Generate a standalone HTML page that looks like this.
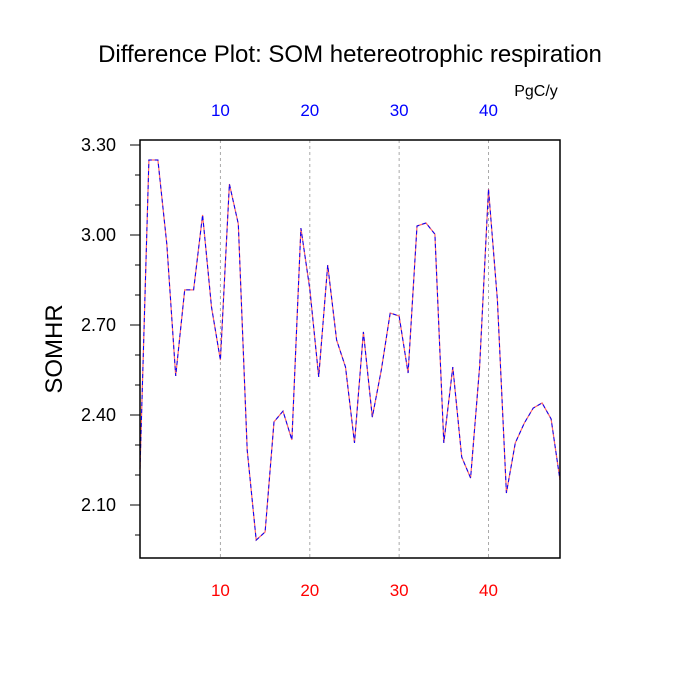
<!DOCTYPE html>
<html><head><meta charset="utf-8"><style>body{margin:0;background:#fff}svg{display:block}</style></head>
<body>
<svg id="chart" width="700" height="700" xmlns="http://www.w3.org/2000/svg" font-family="Liberation Sans, sans-serif">
<text x="350" y="62" text-anchor="middle" font-size="24">Difference Plot: SOM hetereotrophic respiration</text>
<text x="536" y="96" text-anchor="middle" font-size="16">PgC/y</text>
<text transform="translate(62,349) rotate(-90)" text-anchor="middle" font-size="24">SOMHR</text>
<g id="grid"></g><g id="axes"></g><g id="series"></g>
<rect x="140" y="140" width="420" height="418" fill="none" stroke="#000" stroke-width="1.5"/>
</svg>
<script>
const xValues = [1,2,3,4,5,6,7,8,9,10,11,12,13,14,15,16,17,18,19,20,21,22,23,24,25,26,27,28,29,30,31,32,33,34,35,36,37,38,39,40,41,42,43,44,45,46,47,48];
const somhr = [2.22,3.25,3.25,2.97,2.53,2.817,2.817,3.067,2.76,2.583,3.17,3.037,2.283,1.983,2.01,2.377,2.413,2.317,3.023,2.82,2.527,2.9,2.65,2.56,2.307,2.677,2.393,2.55,2.74,2.73,2.54,3.03,3.04,3.003,2.307,2.56,2.26,2.19,2.56,3.153,2.783,2.14,2.307,2.373,2.423,2.44,2.387,2.183];
const xTicks = [10,20,30,40];
const yTicks = [2.10,2.40,2.70,3.00,3.30];
const yMinorTicks = [2.0,2.2,2.3,2.5,2.6,2.8,2.9,3.1,3.2];
const NS='http://www.w3.org/2000/svg';
const X0=140,X1=560,Y0=558,Y1=140,xmin=1,xmax=48,ymin=1.9233,ymax=3.3167;
function sx(v){return X0+(v-xmin)/(xmax-xmin)*(X1-X0);}
function sy(v){return Y0-(v-ymin)/(ymax-ymin)*(Y0-Y1);}
function mk(tag,attrs,parent){const e=document.createElementNS(NS,tag);for(const k in attrs)e.setAttribute(k,attrs[k]);document.getElementById(parent).appendChild(e);return e;}
xTicks.forEach(t=>{
  const g=mk('line',{x1:sx(t),x2:sx(t),y1:Y1,y2:Y0,stroke:'#aaa','stroke-width':1,'stroke-dasharray':'3,3'},'grid');
  
  
  const b=mk('text',{x:sx(t),y:Y0+38,'text-anchor':'middle','font-size':17,fill:'#f00'},'axes');b.textContent=t;
  
  
  const tp=mk('text',{x:sx(t),y:Y1-24,'text-anchor':'middle','font-size':17,fill:'#00f'},'axes');tp.textContent=t;
  
  
});
yTicks.forEach(t=>{
  const l=mk('line',{x1:X0-10,x2:X0,y1:sy(t),y2:sy(t),stroke:'#000','stroke-width':1},'axes');
  
  
  const tx=mk('text',{x:X0-24,y:sy(t)+6,'text-anchor':'end','font-size':18},'axes');tx.textContent=t.toFixed(2);
  
  
});
yMinorTicks.forEach(t=>{
  const l=mk('line',{x1:X0-5,x2:X0,y1:sy(t),y2:sy(t),stroke:'#000','stroke-width':1},'axes');
  
  
});
const pts=xValues.map((x,i)=>sx(x).toFixed(1)+','+sy(somhr[i]).toFixed(1)).join(' ');
const r=mk('polyline',{points:pts,fill:'none',stroke:'#f66','stroke-width':1.2},'series');


const b=mk('polyline',{points:pts,fill:'none',stroke:'#00f','stroke-width':1,'stroke-dasharray':'4,3'},'series');


</script>
</body></html>
